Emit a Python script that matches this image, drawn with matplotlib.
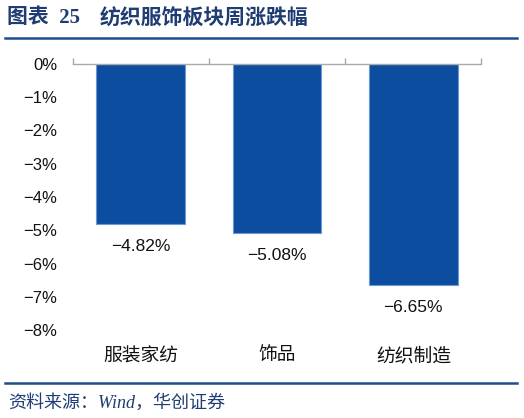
import matplotlib.pyplot as plt
from matplotlib.lines import Line2D

categories = ['服装家纺', '饰品', '纺织制造']
values = [-4.82, -5.08, -6.65]
yticks = [0, -1, -2, -3, -4, -5, -6, -7, -8]

cjk = ['Noto Sans CJK SC', 'DejaVu Sans']
plt.rcParams['font.family'] = ['Liberation Sans', 'Noto Sans CJK SC']
plt.rcParams['axes.unicode_minus'] = True

fig = plt.figure(figsize=(5.24, 4.18), dpi=100)
ax = fig.add_axes([72.5 / 524, 1 - 330 / 418, 409 / 524, 266 / 418])

x = list(range(len(categories)))
ax.bar(x, values, width=0.65, color='#0c4da0', edgecolor='#6b98d2', linewidth=0.8, zorder=2)

for xi, v in zip(x, values):
    ax.annotate('−%.2f%%' % abs(v), (xi, v), xytext=(0, -16), textcoords='offset points',
                ha='center', va='center', fontsize=12.5, color='#111111')

ax.set_xlim(-0.5, 2.5)
ax.set_ylim(-8, 0)
ax.set_yticks(yticks)
ax.set_yticklabels(['0%'] + ['−%d%%' % abs(t) for t in yticks[1:]], fontsize=12, color='#111111')
ax.set_xticks(x)
ax.set_xticklabels(categories, family=cjk, fontsize=13.5, color='#111111')
ax.set_xticks([-0.5, 0.5, 1.5, 2.5], minor=True)

for s in ['left', 'right', 'bottom']:
    ax.spines[s].set_visible(False)
ax.spines['top'].set_color('#aaaaaa')
ax.spines['top'].set_linewidth(1.0)
ax.tick_params(axis='y', length=0, pad=11)
ax.tick_params(axis='x', which='major', length=0, pad=11)
ax.tick_params(axis='x', which='minor', bottom=False, top=True, direction='out',
               length=4.5, color='#aaaaaa', width=1.0)

navy = '#1f3d73'
fig.text(7 / 524, 1 - 18 / 418, '图表  25', family=['Liberation Serif', 'Noto Sans CJK SC'],
         fontsize=15, fontweight='bold', color=navy, va='center')
fig.text(100 / 524, 1 - 18 / 418, '纺织服饰板块周涨跌幅', family=cjk,
         fontsize=15, fontweight='bold', color=navy, va='center')
fig.add_artist(Line2D([5 / 524, 517 / 524], [1 - 38 / 418, 1 - 38 / 418],
                      color='#1f4e8c', linewidth=1.8))
fig.add_artist(Line2D([5 / 524, 517 / 524], [1 - 383 / 418, 1 - 383 / 418],
                      color='#1f4e8c', linewidth=1.8))
fig.text(8 / 524, 1 - 403 / 418, '资料来源：Wind，华创证券',
         family=['Liberation Serif', 'Noto Sans CJK SC'], style='italic',
         fontsize=13, color=navy, va='center')

fig.savefig('out.png', dpi=100)
